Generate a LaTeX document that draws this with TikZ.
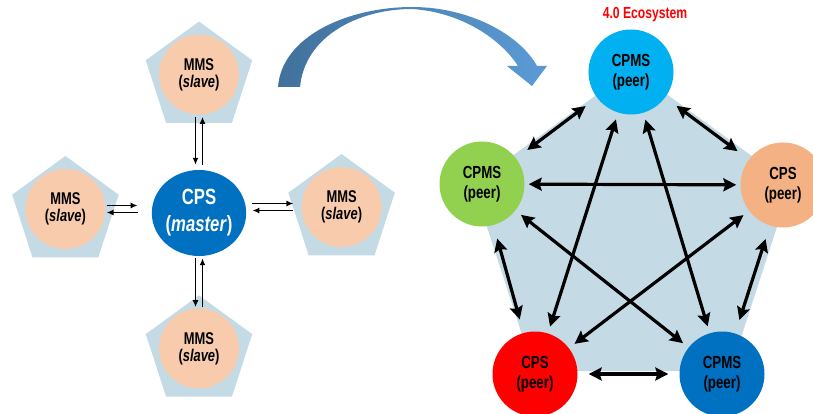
\documentclass[tikz,border=0pt]{standalone}
\usepackage{fontspec}
\setmainfont{Liberation Sans}[FakeStretch=0.76]
\usepackage{xcolor}
\definecolor{pentblue}{HTML}{C4DBE5}
\definecolor{slavepeach}{HTML}{F8CBAD}
\definecolor{masterblue}{HTML}{0070C0}
\definecolor{peercyan}{HTML}{00B0F0}
\definecolor{peergreen}{HTML}{92D050}
\definecolor{peerorange}{HTML}{F4B183}
\definecolor{bendleft}{HTML}{41719C}
\definecolor{bendright}{HTML}{5B9BD5}
\usepackage{tikz}
\usetikzlibrary{shapes.geometric,arrows.meta,positioning,backgrounds}

\begin{document}
\begin{tikzpicture}[x=1pt, y=-1pt,
        pent/.style={regular polygon, regular polygon sides=5, fill=pentblue, inner sep=0pt, minimum size=112pt},
        slave/.style={circle, fill=slavepeach, minimum size=80pt, inner sep=0pt, align=center, font=\fontsize{17}{17}\selectfont\bfseries},
        master/.style={ellipse, fill=masterblue, minimum width=92pt, minimum height=86pt, inner sep=0pt, align=center, text=white, font=\fontsize{22}{27}\selectfont\bfseries},
        peer/.style={circle, minimum size=85pt, inner sep=0pt, align=center, font=\fontsize{17.5}{19.5}\selectfont\bfseries},
        link/.style={line width=1.6pt, -{Latex[length=7pt,width=6pt]}},
        rim/.style={<->, line width=3.2pt, >={Stealth[length=13pt,width=13pt,inset=2pt]}, shorten >=14pt, shorten <=14pt},
        star/.style={rim, shorten >=7pt, shorten <=7pt}
    ]
        \useasboundingbox (0,0) rectangle (813,414);

        \node[master] (cps) at (199,213) {CPS\\(\textit{master})};
        \node[slave, above=55pt of cps] (mmsN) {MMS\\(\textit{slave})};
        \node[slave, left=46pt of cps, yshift=4pt] (mmsW) {MMS\\(\textit{slave})};
        \node[slave, right=55pt of cps, yshift=6pt] (mmsE) {MMS\\(\textit{slave})};
        \node[slave, below=52pt of cps] (mmsS) {MMS\\(\textit{slave})};

        \begin{scope}[on background layer]
            \node[pent] at ([yshift=-3pt]mmsN.center) {};
            \node[pent] at ([yshift=-3pt]mmsW.center) {};
            \node[pent] at ([yshift=-3pt]mmsE.center) {};
            \node[pent] at ([yshift=-3pt]mmsS.center) {};
            \node[pent, minimum size=334pt] (eco) at (632,236) {};
        \end{scope}

        \draw[link, shorten <=2pt, shorten >=5pt] ([xshift=-3.5pt]mmsN.south) -- ([xshift=-3.5pt]cps.north);
        \draw[link, shorten <=5pt, shorten >=2pt] ([xshift=3.5pt]cps.north) -- ([xshift=3.5pt]mmsN.south);
        \draw[link, shorten <=2pt, shorten >=1pt] ([xshift=-3.5pt]cps.south) -- ([xshift=-3.5pt]mmsS.north);
        \draw[link, shorten <=1pt, shorten >=2pt] ([xshift=3.5pt]mmsS.north) -- ([xshift=3.5pt]cps.south);
        \draw[link, shorten <=1pt, shorten >=14pt] ([yshift=3.5pt]mmsW.east) -- ([yshift=3.5pt]mmsW.east -| cps.west);
        \draw[link, shorten <=14pt, shorten >=1pt] ([yshift=-3.5pt]mmsW.east -| cps.west) -- ([yshift=-3.5pt]mmsW.east);
        \draw[link, shorten <=6pt, shorten >=8pt] ([yshift=3.5pt]mmsE.west -| cps.east) -- ([yshift=3.5pt]mmsE.west);
        \draw[link, shorten <=8pt, shorten >=6pt] ([yshift=-3.5pt]mmsE.west) -- ([yshift=-3.5pt]mmsE.west -| cps.east);

        \shade[left color=bendleft, right color=bendright]
            (278,87) .. controls (282,35) and (350,7) .. (412,7)
            .. controls (470,7) and (520,35) .. (537,66)
            -- (547,66) -- (532,86) -- (507,66) -- (518,66)
            .. controls (500,38) and (460,12) .. (412,9)
            .. controls (360,9) and (305,35) .. (300,87) -- cycle;

        \node[font=\fontsize{16}{16}\selectfont\bfseries, text=red] (title) at (645,15) {4.0 Ecosystem};
        \node[peer, fill=peercyan] (pTop) at (631,72) {CPMS\\(peer)};
        \node[peer, fill=peergreen] (pLeft) at (482,184) {CPMS\\(peer)};
        \node[peer, fill=peerorange] (pRight) at (783,185) {CPS\\(peer)};
        \node[peer, fill=red] (pBL) at (535,374) {CPS\\(peer)};
        \node[peer, fill=masterblue] (pBR) at (722,374) {CPMS\\(peer)};

        \draw[rim] (pTop) -- (pLeft);
        \draw[rim] (pTop) -- (pRight);
        \draw[rim] (pLeft) -- (pBL);
        \draw[rim] (pRight) -- (pBR);
        \draw[rim, shorten >=11pt, shorten <=11pt] (pBL) -- (pBR);
        \draw[star, shorten >=4pt, shorten <=4pt] (pLeft) -- (pRight);
        \draw[star] (pTop) -- (pBL);
        \draw[star] (pTop) -- (pBR);
        \draw[star] (pLeft) -- (pBR);
        \draw[star] (pRight) -- (pBL);
    \end{tikzpicture}
\end{document}
